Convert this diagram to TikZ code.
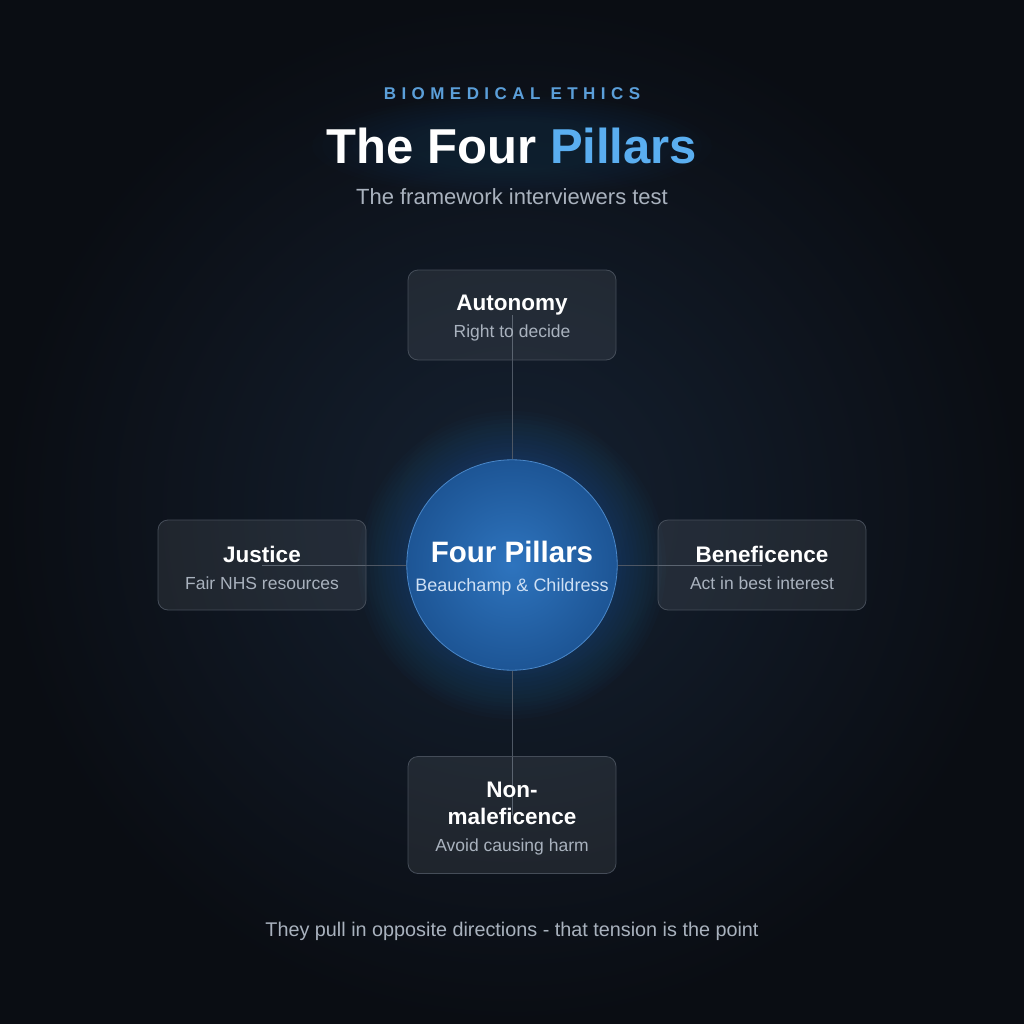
\documentclass[tikz,border=0pt]{standalone}
\usepackage{fontspec}
\setmainfont{Liberation Sans}
\newfontfamily\spacedfont[LetterSpace=32]{Liberation Sans}
\usepackage{tikz}
\usetikzlibrary{backgrounds}
\definecolor{BgInner}{HTML}{152131}
\definecolor{BgOuter}{HTML}{0A0D13}
\definecolor{Accent}{HTML}{5AAEF0}
\definecolor{Kicker}{HTML}{5B9FD9}
\definecolor{TextGrey}{HTML}{A9B2BE}
\definecolor{BoxEdge}{HTML}{4A525E}
\definecolor{Spoke}{HTML}{4E5764}
\definecolor{CoreIn}{HTML}{2E74BE}
\definecolor{CoreOut}{HTML}{1D5595}
\definecolor{CoreEdge}{HTML}{4A87C8}
\definecolor{CoreSub}{HTML}{CFE0F4}
\definecolor{Glow}{HTML}{2F7AD0}

\tikzset{
  pillar/.style={draw=BoxEdge, line width=0.8pt, fill=white, fill opacity=0.08,
    text opacity=1, draw opacity=0.9, rounded corners=10pt, minimum width=208pt,
    minimum height=90pt, align=center, text=white, font=\fontsize{17}{27}\selectfont},
  core/.style={circle, minimum size=208pt, inner color=CoreIn, outer color=CoreOut,
    draw=CoreEdge, line width=0.8pt, align=center, text=white,
    font=\fontsize{18}{29}\selectfont},
  spoke/.style={draw=Spoke, line width=1pt},
}
\newcommand{\phead}[1]{{\fontsize{22.5}{27}\selectfont\bfseries\rule{0pt}{22pt}#1}}
\newcommand{\psub}[1]{{\fontsize{17.5}{27}\selectfont\color{TextGrey}#1}}

\begin{document}
\begin{tikzpicture}[x=1pt,y=-1pt]
  \useasboundingbox (0,0) rectangle (1024,1024);
  \begin{scope}[on background layer]
    \shade[inner color=BgInner, outer color=BgOuter] (0,0) rectangle (1024,1024);
    % soft glow behind the title
    \foreach \w in {100,110,...,200}
      \fill[Glow, opacity=0.012] (512,146) ellipse ({\w} and {\w/4});
  \end{scope}

  % headings
  \node[text=Kicker] (kicker) at (512,94) {\spacedfont\fontsize{17}{20}\selectfont\bfseries BIOMEDICAL ETHICS};
  \node[text=white] (title) at (512,146) {\fontsize{49}{60}\selectfont\bfseries The Four \textcolor{Accent}{Pillars}};
  \node[text=TextGrey] (subtitle) at (512,197) {\fontsize{22}{26}\selectfont The framework interviewers test};

  % the four pillars
  \node[pillar] (aut) at (512,315) {\phead{Autonomy}\\\psub{Right to decide}};
  \node[pillar] (jus) at (262,565) {\phead{Justice}\\\psub{Fair NHS resources}};
  \node[pillar] (ben) at (762,565) {\phead{Beneficence}\\\psub{Act in best interest}};
  \node[pillar, minimum height=117pt] (non) at (512,815) {\phead{Non-}\\\phead{maleficence}\\\psub{Avoid causing harm}};

  % centre
  \node[core] (core) at (512,565) {{\fontsize{29.5}{29}\selectfont\bfseries\rule{0pt}{28pt}Four Pillars}\\{\color{CoreSub}Beauchamp \& Childress}};

  \begin{scope}[on background layer]
    \foreach \r in {106,110,...,154}
      \fill[Glow, opacity=0.022] (core.center) circle (\r);
    \draw[spoke] (core.north) -- (aut.center);
    \draw[spoke] (core.west) -- (jus.center);
    \draw[spoke] (core.east) -- (ben.center);
    \draw[spoke] (core.south) -- (non.center);
  \end{scope}

  \node[text=TextGrey] (note) at (512,931) {\fontsize{19.8}{24}\selectfont They pull in opposite directions - that tension is the point};
\end{tikzpicture}
\end{document}
